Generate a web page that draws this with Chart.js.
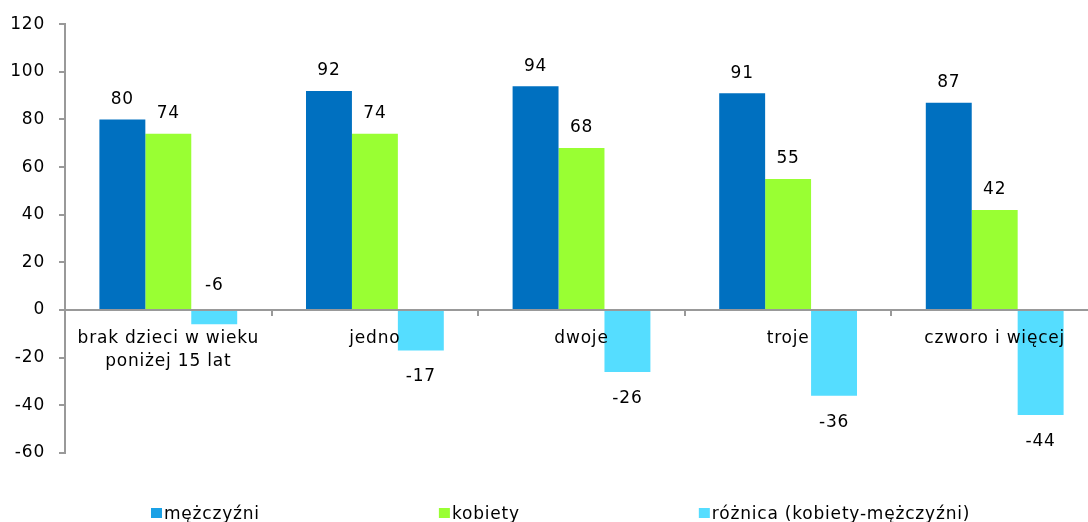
<!DOCTYPE html>
<html lang="pl">
<head>
<meta charset="utf-8">
<title>Wskaźnik zatrudnienia według liczby dzieci</title>
<script src="https://cdn.jsdelivr.net/npm/chart.js@4/dist/chart.umd.min.js"></script>
<style>
  html, body { margin: 0; padding: 0; background: #ffffff; overflow: hidden; }
  #wrap { width: 1100px; height: 522px; position: relative; }
</style>
</head>
<body>
<div id="wrap"><canvas id="chart" width="1100" height="522"></canvas></div>
<script>
// Categories: number of children under 15
const categories = [['brak dzieci w wieku', 'poniżej 15 lat'], 'jedno', 'dwoje', 'troje', 'czworo i więcej'];
// Series values
const seriesNames = ['mężczyźni', 'kobiety', 'różnica (kobiety-mężczyźni)'];
const men = [80, 92, 94, 91, 87];
const women = [74, 74, 68, 55, 42];
const difference = [-6, -17, -26, -36, -44];
// Value axis ticks
const yMin = -60;
const yMax = 120;
const yStep = 20;

const FONT = 'DejaVu Sans, Verdana, sans-serif';
const LETTER_SPACING = '0.8px';
const AXIS_GREY = '#999999';
const barColors = ['#0070C0', '#99FF33', '#55DDFF'];
const legendColors = ['#1AA1E6', '#99FF33', '#55DDFF'];

// Slightly wider type, applied before measuring and drawing
const textSpacing = {
  id: 'textSpacing',
  beforeLayout(chart) { chart.ctx.letterSpacing = LETTER_SPACING; },
  beforeDraw(chart) { chart.ctx.letterSpacing = LETTER_SPACING; }
};

// Value labels above positive bars and below negative ones
const valueLabels = {
  id: 'valueLabels',
  afterDatasetsDraw(chart) {
    const ctx = chart.ctx;
    ctx.save();
    ctx.font = '17px ' + FONT;
    ctx.fillStyle = '#000000';
    ctx.textAlign = 'center';
    ctx.textBaseline = 'middle';
    chart.data.datasets.forEach((ds, i) => {
      const meta = chart.getDatasetMeta(i);
      meta.data.forEach((bar, j) => {
        const v = ds.data[j];
        let y;
        if (v >= 0) {
          y = bar.y - 20;
        } else if (v > -10) {
          // short negative bar: keep its label clear of the category text
          y = bar.base - 25;
        } else {
          y = bar.y + 26.5;
        }
        ctx.fillText(String(v), bar.x, y);
      });
    });
    ctx.restore();
  }
};

// Legend row along the bottom edge
const bottomLegend = {
  id: 'bottomLegend',
  afterDraw(chart) {
    const ctx = chart.ctx;
    ctx.save();
    ctx.font = '17px ' + FONT;
    ctx.textBaseline = 'alphabetic';
    ctx.textAlign = 'left';
    let x = chart.chartArea.left + 86;
    const gap = 179;
    chart.data.datasets.forEach((ds, i) => {
      ctx.fillStyle = legendColors[i];
      ctx.fillRect(x, 508, 11, 10);
      ctx.fillStyle = '#000000';
      ctx.fillText(ds.label, x + 13, 518.5);
      x += 13 + ctx.measureText(ds.label).width + gap;
    });
    ctx.restore();
  }
};

new Chart(document.getElementById('chart'), {
  type: 'bar',
  data: {
    labels: categories,
    datasets: [
      { label: seriesNames[0], data: men, backgroundColor: barColors[0] },
      { label: seriesNames[1], data: women, backgroundColor: barColors[1] },
      { label: seriesNames[2], data: difference, backgroundColor: barColors[2] }
    ]
  },
  options: {
    responsive: false,
    animation: false,
    devicePixelRatio: 1,
    datasets: { bar: { categoryPercentage: 0.667, barPercentage: 1.0, borderWidth: 0 } },
    layout: { padding: { top: 24, bottom: 69, left: 0, right: 2 } },
    plugins: {
      legend: { display: false },
      tooltip: { enabled: false }
    },
    scales: {
      x: {
        position: { y: 0 },
        offset: true,
        grid: { offset: true, drawOnChartArea: false, drawTicks: true, tickLength: 5, color: AXIS_GREY, lineWidth: 2 },
        border: { display: true, color: AXIS_GREY, width: 2 },
        ticks: {
          z: 1,
          color: '#000000',
          font: { family: FONT, size: 17, lineHeight: 1.35 },
          padding: 12,
          maxRotation: 0,
          autoSkip: false
        }
      },
      y: {
        min: yMin,
        max: yMax,
        afterFit(scale) { scale.width = 65; },
        grid: { drawOnChartArea: false, drawTicks: true, tickLength: 6, color: AXIS_GREY, lineWidth: 2 },
        border: { display: true, color: AXIS_GREY, width: 2 },
        ticks: {
          stepSize: yStep,
          color: '#000000',
          font: { family: FONT, size: 17 },
          padding: 14
        }
      }
    }
  },
  plugins: [textSpacing, valueLabels, bottomLegend]
});
</script>
</body>
</html>
